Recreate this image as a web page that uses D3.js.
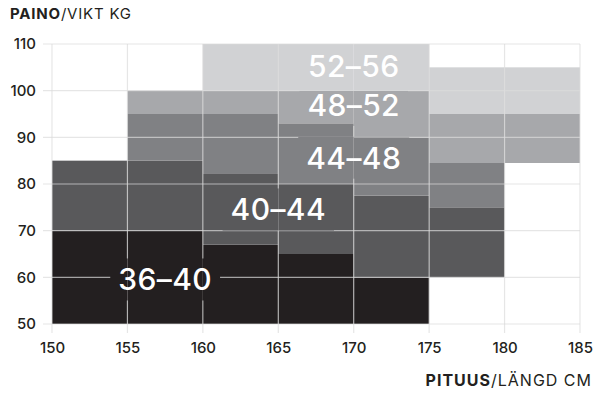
<!DOCTYPE html>
<html>
<head>
<meta charset="utf-8">
<script src="https://cdn.jsdelivr.net/npm/d3@7"></script>
<style>
  body { margin: 0; background: #fff; }
  svg { display: block; font-family: Inter, "Noto Sans", sans-serif; }
</style>
</head>
<body>
<div id="chart"></div>
<script>
// height columns (cm), each 5 cm wide
const colStart = [150, 155, 160, 165, 170, 175, 180];
const sizes = ["36–40", "40–44", "44–48", "48–52", "52–56"];
const colors = ["#231f20", "#59595b", "#808184", "#a7a8ab", "#d1d2d4"];

// weight range (kg) of each size in each column, null = none
const lo_36_40 = [50, 50, 50, 50, 50, null, null];
const hi_36_40 = [70, 70, 67, 65, 60, null, null];
const lo_40_44 = [70, 70, 67, 65, 60, 60, null];
const hi_40_44 = [85, 85, 82.3, 80, 77.5, 75, null];
const lo_44_48 = [null, 85, 82.3, 80, 77.5, 75, null];
const hi_44_48 = [null, 95, 95, 93, 90, 84.5, null];
const lo_48_52 = [null, 95, 95, 93, 90, 84.5, 84.5];
const hi_48_52 = [null, 100, 100, 100, 100, 95, 95];
const lo_52_56 = [null, null, 100, 100, 100, 95, 95];
const hi_52_56 = [null, null, 110, 110, 110, 105, 105];

// where each size label sits (cm, kg)
const labelCm = [157.5, 165, 170, 170, 170];
const labelKg = [59.5, 74.5, 85.6, 96.9, 105.2];

const xTicks = [150, 155, 160, 165, 170, 175, 180, 185];
const yTicks = [50, 60, 70, 80, 90, 100, 110];

const los = [lo_36_40, lo_40_44, lo_44_48, lo_48_52, lo_52_56];
const his = [hi_36_40, hi_40_44, hi_44_48, hi_48_52, hi_52_56];

let cells = [];
sizes.forEach(function (s, i) {
  colStart.forEach(function (c, j) {
    if (los[i][j] != null) {
      cells.push({ size: i, x0: c, x1: c + 5, lo: los[i][j], hi: his[i][j] });
    }
  });
});

const width = 600, height = 393;

const svg = d3.select("#chart").append("svg")
  .attr("width", width)
  .attr("height", height);

const x = d3.scaleLinear().domain([150, 185]).range([52, 580]);
const y = d3.scaleLinear().domain([50, 110]).range([324, 44]);

// cells
svg.append("g").selectAll("rect")
  .data(cells)
  .join("rect")
  .attr("x", d => x(d.x0))
  .attr("width", d => x(d.x1) - x(d.x0))
  .attr("y", d => y(d.hi))
  .attr("height", d => y(d.lo) - y(d.hi))
  .attr("fill", d => colors[d.size]);

// labels
const labels = svg.append("g").selectAll("text")
  .data(sizes)
  .join("text")
  .attr("x", (d, i) => x(labelCm[i]))
  .attr("y", (d, i) => y(labelKg[i]))
  .attr("dy", "0.36em")
  .attr("text-anchor", "middle")
  .attr("fill", "#fff")
  .style("font-size", "30px")
  .style("font-weight", 500)
  .style("letter-spacing", "0.4px")
  .text(d => d);

// mask so grid lines stop around the labels
const mask = svg.append("defs").append("mask")
  .attr("id", "gridmask")
  .attr("maskUnits", "userSpaceOnUse")
  .attr("x", 0).attr("y", 0).attr("width", width).attr("height", height);
mask.append("rect").attr("width", width).attr("height", height).attr("fill", "#fff");
labels.each(function () {
  let b = this.getBBox();
  mask.append("rect")
    .attr("x", b.x - 8)
    .attr("y", b.y - 3)
    .attr("width", b.width + 16)
    .attr("height", b.height + 6)
    .attr("fill", "#000");
});

// grid
const grid = svg.insert("g", "g:nth-of-type(2)")
  .attr("mask", "url(#gridmask)")
  .attr("stroke", "#dcdcdc")
  .attr("stroke-opacity", 0.7)
  .attr("stroke-width", 1.2);

grid.selectAll(".v")
  .data(xTicks)
  .join("line")
  .attr("class", "v")
  .attr("x1", d => x(d)).attr("x2", d => x(d))
  .attr("y1", y(110)).attr("y2", y(50) + 9);

grid.selectAll(".h")
  .data(yTicks)
  .join("line")
  .attr("class", "h")
  .attr("y1", d => y(d)).attr("y2", d => y(d))
  .attr("x1", x(150) - 9).attr("x2", x(185));

// axes text
const xAxis = d3.axisBottom(x).tickValues(xTicks).tickSize(0).tickPadding(9);
const yAxis = d3.axisLeft(y).tickValues(yTicks).tickSize(0).tickPadding(7);

svg.append("g")
  .attr("transform", "translate(0," + (y(50) + 9) + ")")
  .call(xAxis)
  .call(g => g.select(".domain").remove());

svg.append("g")
  .attr("transform", "translate(" + (x(150) - 9) + ",0)")
  .call(yAxis)
  .call(g => g.select(".domain").remove());

svg.selectAll(".tick text")
  .attr("fill", "#231f20")
  .style("font-family", "Inter, sans-serif")
  .style("font-size", "15px")
  .style("font-weight", 500);

// axis titles
const yTitle = svg.append("text")
  .attr("x", 10)
  .attr("y", 18.5)
  .attr("fill", "#231f20")
  .style("font-size", "15px")
  .style("letter-spacing", "0.8px");
yTitle.append("tspan").style("font-weight", 700).text("PAINO");
yTitle.append("tspan").style("font-weight", 400).text("/VIKT KG");

const xTitle = svg.append("text")
  .attr("x", 592)
  .attr("y", 386)
  .attr("text-anchor", "end")
  .attr("fill", "#231f20")
  .style("font-size", "16px")
  .style("letter-spacing", "1px");
xTitle.append("tspan").style("font-weight", 700).text("PITUUS");
xTitle.append("tspan").style("font-weight", 400).text("/LÄNGD CM");
</script>
</body>
</html>
